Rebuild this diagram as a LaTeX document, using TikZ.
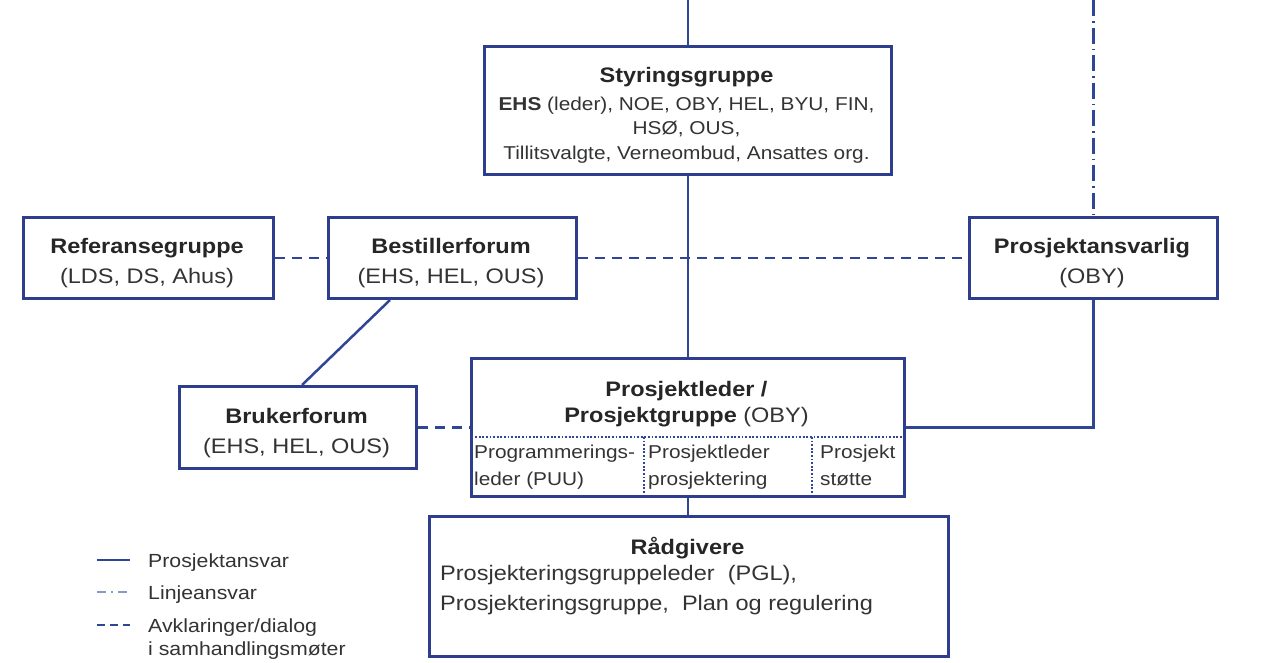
\documentclass[tikz,border=0pt]{standalone}
\usepackage{fontspec}
\setmainfont{Liberation Sans}[FakeStretch=1.12]
\usetikzlibrary{calc}
\definecolor{navy}{HTML}{2E3D8C}
\definecolor{lineblue}{HTML}{2F4696}
\definecolor{txt}{HTML}{262626}
\definecolor{bodytxt}{HTML}{333333}
\definecolor{lightdd}{HTML}{8A9AC8}
\newcommand{\ttl}{\fontsize{21}{25}\selectfont\bfseries\color{txt}}
\newcommand{\bdy}{\fontsize{21}{25}\selectfont\color{bodytxt}}
\newcommand{\sbdy}{\fontsize{18.6}{24}\selectfont\color{bodytxt}}
\newcommand{\lgd}{\fontsize{19}{22}\selectfont\color{bodytxt}}
\begin{document}
\begin{tikzpicture}[x=1pt,y=-1pt,
  box/.style={draw=navy,line width=3pt,fill=white,inner sep=0pt,anchor=north west},
  txtnode/.style={inner sep=0pt,anchor=base},
  leftnode/.style={inner sep=0pt,anchor=base west},
  prosj/.style={draw=lineblue,line width=2.5pt},
  linje/.style={draw=lineblue,line width=2.2pt,dash pattern=on 16pt off 5pt on 1.5pt off 5pt},
  dialog/.style={draw=lineblue,line width=2.5pt,dash pattern=on 10pt off 7pt},
  dotline/.style={draw=lineblue,line width=2.2pt,dash pattern=on 1.8pt off 1.8pt}]
\useasboundingbox (0,0) rectangle (1262,662);
\fill[white] (0,0) rectangle (1262,662);

% boxes
\node[box,minimum width=407,minimum height=128] (styr) at (483,45) {};
\node[box,minimum width=250,minimum height=81] (ref) at (22,216) {};
\node[box,minimum width=248,minimum height=81] (best) at (327,216) {};
\node[box,minimum width=248,minimum height=81] (pa) at (968,216) {};
\node[box,minimum width=237,minimum height=82] (bruk) at (178,385) {};
\node[box,minimum width=433,minimum height=138] (pl) at (470,357) {};
\node[box,minimum width=519,minimum height=140] (rad) at (428,515) {};

% connectors
\coordinate (topS) at (styr.north |- 0,0);
\coordinate (topP) at (pa.north |- 0,0);
\draw[prosj] (topS) -- (styr.north);
\draw[linje] (topP) -- (pa.north);
\draw[prosj] (styr.south) -- (pl.north);
\draw[dialog] (ref.east) -- (best.west);
\draw[dialog] (best.east) -- (pa.west);
\draw[prosj] ($(best.south west)+(63,0)$) -- ($(bruk.north)+(4,0)$);
\draw[dialog] (bruk.east) -- (bruk.east -| pl.west);
\draw[prosj] (pa.south) |- (pl.east);
\draw[prosj] (pl.south) -- (pl.south |- rad.north);

% inner dotted divisions of Prosjektleder box
\coordinate (dl) at (471.5,437);
\coordinate (dr) at (901.5,437);
\draw[dotline] (dl) -- (dr);
\draw[dotline] (644,437) -- (644,493.5);
\draw[dotline] (812,437) -- (812,493.5);

% texts
\node[txtnode] (t1) at (686.5,82) {\ttl Styringsgruppe};
\node[txtnode] (t2) at (686.5,110) {\sbdy\textbf{EHS} (leder), NOE, OBY, HEL, BYU, FIN,};
\node[txtnode] (t3) at (686.5,134) {\sbdy HSØ, OUS,};
\node[txtnode] (t4) at (686.5,159) {\sbdy Tillitsvalgte, Verneombud, Ansattes org.};

\node[txtnode] (t5) at (147,253) {\ttl Referansegruppe};
\node[txtnode] (t6) at (147,283) {\bdy (LDS, DS, Ahus)};
\node[txtnode] (t7) at (451,253) {\ttl Bestillerforum};
\node[txtnode] (t8) at (451,283) {\bdy (EHS, HEL, OUS)};
\node[txtnode] (t9) at (1092,253) {\ttl Prosjektansvarlig};
\node[txtnode] (t10) at (1092,283) {\bdy (OBY)};

\node[txtnode] (t11) at (296.5,423) {\ttl Brukerforum};
\node[txtnode] (t12) at (296.5,453) {\bdy (EHS, HEL, OUS)};

\node[txtnode] (t13) at (686.5,396) {\ttl Prosjektleder /};
\node[txtnode] (t14) at (686.5,422) {\ttl Prosjektgruppe \mdseries\color{bodytxt}(OBY)};
\node[leftnode] (t15) at (474,458) {\sbdy Programmerings-};
\node[leftnode] (t16) at (474,485) {\sbdy leder (PUU)};
\node[leftnode] (t17) at (648,458) {\sbdy Prosjektleder};
\node[leftnode] (t18) at (648,485) {\sbdy prosjektering};
\node[leftnode] (t19) at (820,458) {\sbdy Prosjekt};
\node[leftnode] (t20) at (820,485) {\sbdy støtte};

\node[txtnode] (t21) at (687.5,554) {\ttl Rådgivere};
\node[leftnode] (t22) at (440,580) {\bdy Prosjekteringsgruppeleder \ (PGL),};
\node[leftnode] (t23) at (440,610) {\bdy Prosjekteringsgruppe, \ Plan og regulering};

% legend
\coordinate (l1a) at (97,560);  \coordinate (l1b) at (130,560);
\coordinate (l2a) at (97,592);  \coordinate (l2b) at (130,592);
\coordinate (l3a) at (97,625);  \coordinate (l3b) at (130,625);
\draw[prosj,line width=2.8pt] (l1a) -- (l1b);
\draw[lightdd,line width=2.8pt,dash pattern=on 9pt off 5pt on 2pt off 5pt] (l2a) -- (l2b);
\draw[dialog,line width=2.8pt,dash pattern=on 8pt off 5pt] (l3a) -- (l3b);
\node[leftnode] (lg1) at (148,567) {\lgd Prosjektansvar};
\node[leftnode] (lg2) at (148,599) {\lgd Linjeansvar};
\node[leftnode] (lg3) at (148,632) {\lgd Avklaringer/dialog};
\node[leftnode] (lg4) at (148,655) {\lgd i samhandlingsmøter};
\end{tikzpicture}
\end{document}
